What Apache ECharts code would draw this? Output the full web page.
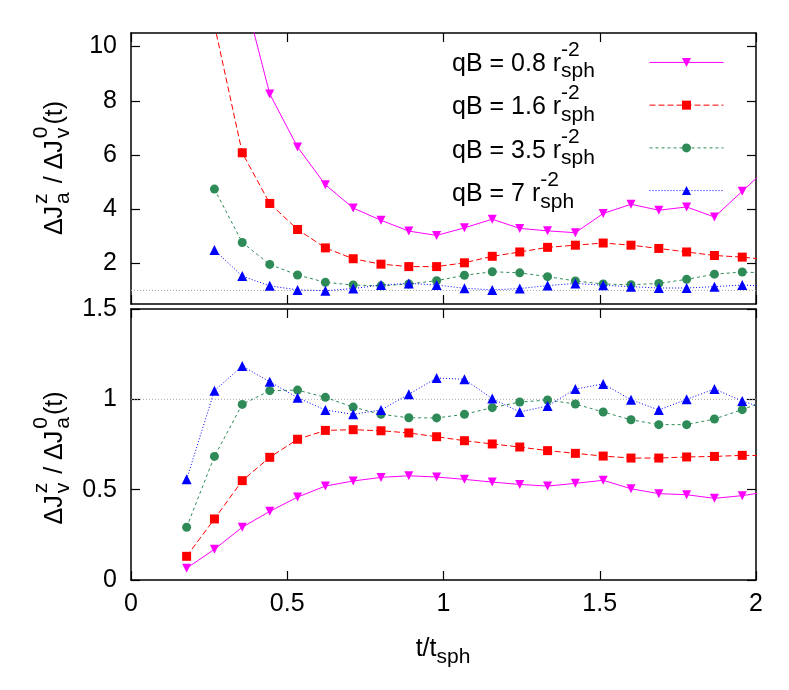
<!DOCTYPE html>
<html>
<head>
<meta charset="utf-8">
<script src="https://cdn.jsdelivr.net/npm/echarts@6/dist/echarts.min.js"></script>
<style>
html,body{margin:0;padding:0;background:#fff;}
#main{width:789px;height:690px;}
</style>
</head>
<body>
<div id="main"></div>
<script>
// ---- data ----
const tValues = [0.178,0.267,0.356,0.444,0.533,0.622,0.711,0.800,0.889,0.978,1.067,1.156,1.244,1.333,1.422,1.511,1.600,1.689,1.778,1.867,1.956,2.044];

// top panel: dJa^z / dJv^0
const topQB08 = [null,null,12.2,8.25,6.29,4.90,4.04,3.59,3.19,3.03,3.31,3.63,3.29,3.20,3.13,3.84,4.18,3.96,4.08,3.71,4.66,5.6];
const topQB16 = [null,10.8,6.08,4.21,3.25,2.57,2.17,1.97,1.88,1.88,2.02,2.26,2.42,2.59,2.67,2.75,2.67,2.55,2.42,2.29,2.23,2.13];
const topQB35 = [null,4.74,2.77,1.96,1.57,1.30,1.20,1.17,1.24,1.36,1.56,1.69,1.65,1.51,1.35,1.24,1.21,1.26,1.41,1.60,1.68,1.64];
const topQB7  = [null,2.49,1.53,1.17,1.02,0.99,1.07,1.20,1.26,1.20,1.08,1.02,1.07,1.18,1.26,1.19,1.14,1.09,1.09,1.14,1.20,1.15];

// bottom panel: dJv^z / dJa^0
const botQB08 = [0.065,0.170,0.292,0.380,0.459,0.520,0.548,0.568,0.577,0.570,0.557,0.542,0.529,0.520,0.535,0.552,0.505,0.478,0.472,0.452,0.467,0.49];
const botQB16 = [0.131,0.338,0.550,0.679,0.779,0.828,0.832,0.826,0.814,0.793,0.771,0.753,0.736,0.716,0.701,0.686,0.675,0.675,0.681,0.684,0.690,0.688];
const botQB35 = [0.292,0.684,0.972,1.048,1.051,1.011,0.957,0.917,0.898,0.897,0.917,0.954,0.985,0.996,0.974,0.930,0.887,0.860,0.860,0.891,0.943,1.0];
const botQB7  = [0.557,1.048,1.184,1.097,1.009,0.941,0.917,0.941,1.028,1.118,1.111,1.004,0.930,0.963,1.057,1.085,0.998,0.941,1.0,1.057,0.991,0.94];

const topYTicks = [2,4,6,8,10];
const refLine = [[0,1],[2,1]];
const seriesNames = ['qB = 0.8','qB = 1.6','qB = 3.5','qB = 7'];
const legendNums = ['0.8','1.6','3.5','7'];

// ---- styles ----
const FONT = '"Liberation Sans", Arial, Helvetica, sans-serif';
const MAIN = 25, SCRIPT = 21, SUP = -15, SUB = 6.5;
const styles = [
  {color:'#ff00ff', symbol:'path://M0,0 L10,0 L5,9 Z', size:9, type:'solid'},
  {color:'#ff0000', symbol:'rect', size:9, type:[6,3]},
  {color:'#2e8b57', symbol:'circle', size:9, type:[3,3]},
  {color:'#0000ff', symbol:'triangle', size:10, type:[1,2]}
];

const mctx = document.createElement('canvas').getContext('2d');
function tw(t, s){ mctx.font = s + 'px ' + FONT; return mctx.measureText(t).width; }
function txt(t, x, baseline, size){
  return {type:'text', x:x, y:baseline - 0.35*size, silent:true,
    style:{text:t, font:size + 'px ' + FONT, fill:'#000', align:'left', verticalAlign:'middle'}};
}
function buildMath(parts, gap){
  let x = 0; const els = [];
  for (const p of parts){
    if (typeof p === 'string'){ els.push(txt(p, x, 0, MAIN)); x += tw(p, MAIN) + (gap||0); }
    else {
      let w = 0;
      if (p.sup){ els.push(txt(p.sup, x, SUP, SCRIPT)); w = Math.max(w, tw(p.sup, SCRIPT)); }
      if (p.sub){ els.push(txt(p.sub, x, SUB, SCRIPT)); w = Math.max(w, tw(p.sub, SCRIPT)); }
      x += w + (gap||0);
    }
  }
  return {els:els, width:x};
}
function shift(els, dx){ els.forEach(e => e.x += dx); return els; }

const graphics = [];
const legendBase = [72.5, 116, 159.5, 203];
legendNums.forEach((n,i) => {
  const m = buildMath(['qB = ' + n + ' r', {sup:'-2', sub:'sph'}]);
  graphics.push({type:'group', x:452, y:legendBase[i], children:m.els});
});
const yt1 = buildMath(['\u0394J', {sup:'z', sub:'a'}, ' / \u0394J', {sup:'0', sub:'v'}, '(t)'], 2);
graphics.push({type:'group', x:64, y:167, rotation:Math.PI/2, children:shift(yt1.els, -yt1.width/2)});
const yt2 = buildMath(['\u0394J', {sup:'z', sub:'v'}, ' / \u0394J', {sup:'0', sub:'a'}, '(t)'], 2);
graphics.push({type:'group', x:64, y:457, rotation:Math.PI/2, children:shift(yt2.els, -yt2.width/2)});
const xt = buildMath(['t/t', {sub:'sph'}]);
graphics.push({type:'group', x:443 - xt.width/2, y:658, children:xt.els});

const axisLineStyle = {lineStyle:{color:'#000', width:1.5}};
const tickStyle = {inside:true, length:9, lineStyle:{color:'#000', width:1.2}};
function xAx(grid, pos, labels){
  return {type:'value', gridIndex:grid, position:pos, min:0, max:2, interval:0.5,
    axisLine:{show:true, onZero:false, ...axisLineStyle}, axisTick:tickStyle, splitLine:{show:false},
    axisLabel:{show:labels, color:'#000', fontFamily:FONT, fontSize:MAIN, margin:12}};
}
function yAx(grid, pos, labels, min, max, opts){
  const a = {type:'value', gridIndex:grid, position:pos, min:min, max:max,
    axisLine:{show:true, onZero:false, ...axisLineStyle}, axisTick:{...tickStyle}, splitLine:{show:false},
    axisLabel:{show:labels, color:'#000', fontFamily:FONT, fontSize:MAIN, margin:14}};
  if (opts && opts.custom){ a.axisTick.customValues = opts.custom; a.axisLabel.customValues = opts.custom; }
  if (opts && opts.interval){ a.interval = opts.interval; }
  return a;
}

const topData = [topQB08, topQB16, topQB35, topQB7];
const botData = [botQB08, botQB16, botQB35, botQB7];
const series = [];
function refSeries(xi, yi){
  return {type:'line', name:'ref' + xi, xAxisIndex:xi, yAxisIndex:yi, data:refLine, symbol:'none',
    silent:true, lineStyle:{color:'#a8a8a8', width:1, type:[1,2]}, emphasis:{disabled:true}, z:1, animation:false};
}
function mk(name, arr, i, xi, yi){
  const st = styles[i];
  return {type:'line', name:name, xAxisIndex:xi, yAxisIndex:yi,
    data: tValues.map((x,k) => [x, arr[k]]),
    symbol: st.symbol, symbolSize: st.size, showAllSymbol:true, clip:true,
    lineStyle:{color:st.color, width:1, type:st.type},
    itemStyle:{color:st.color}, emphasis:{disabled:true}, animation:false, z:2+i};
}
series.push(refSeries(0,0));
series.push(refSeries(2,2));
topData.forEach((d,i) => series.push(mk(seriesNames[i], d, i, 0, 0)));
botData.forEach((d,i) => series.push(mk(seriesNames[i] + ' ', d, i, 2, 2)));

const option = {
  backgroundColor:'#fff',
  animation:false,
  grid:[
    {left:131, top:33, width:625, height:271},
    {left:131, top:309, width:625, height:271}
  ],
  xAxis:[xAx(0,'bottom',false), xAx(0,'top',false), xAx(1,'bottom',true), xAx(1,'top',false)],
  yAxis:[
    yAx(0,'left',true,0.5,10.5,{custom:topYTicks}),
    yAx(0,'right',false,0.5,10.5,{custom:topYTicks}),
    yAx(1,'left',true,0,1.5,{interval:0.5}),
    yAx(1,'right',false,0,1.5,{interval:0.5})
  ],
  legend:{orient:'vertical', left:649, top:56.8, itemWidth:74, itemHeight:11.25, itemGap:32.6, padding:0,
    data:seriesNames, selectedMode:false, formatter:function(){return '';},
    textStyle:{fontSize:8}, lineStyle:{width:1}},
  graphic:graphics,
  series:series
};
const chart = echarts.init(document.getElementById('main'));
chart.setOption(option);
</script>
</body>
</html>
